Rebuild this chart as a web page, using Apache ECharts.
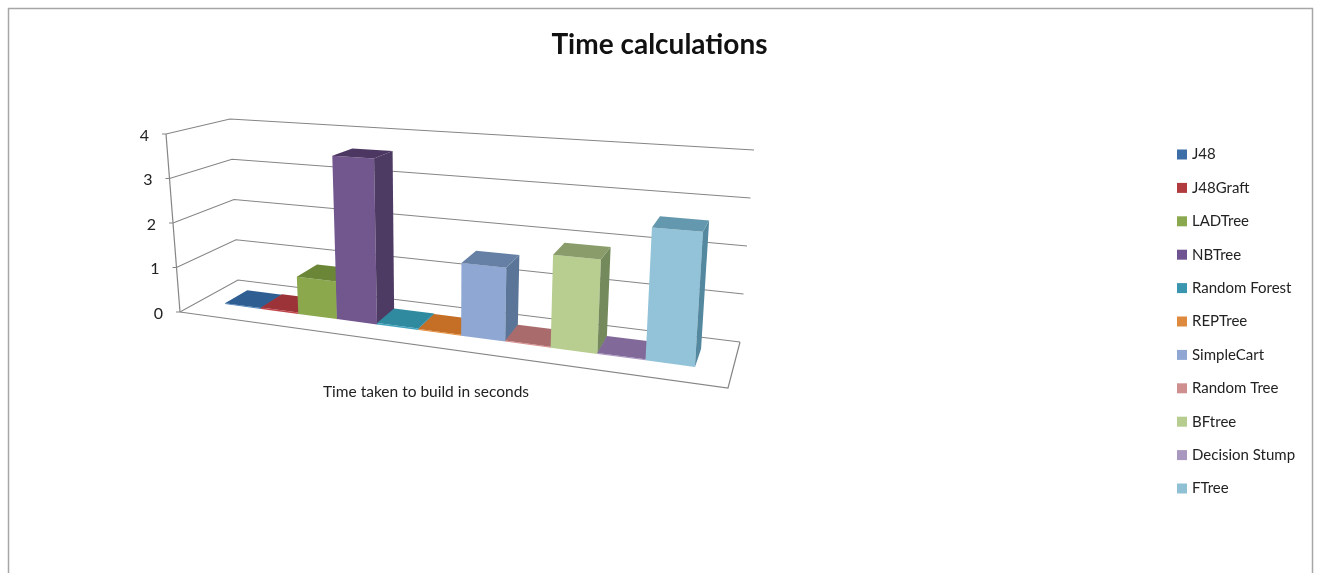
<!DOCTYPE html>
<html>
<head>
<meta charset="utf-8">
<title>Time calculations</title>
<style>html,body{margin:0;padding:0;background:#fff}#chart{width:1319px;height:573px}</style>
<script src="https://cdn.jsdelivr.net/npm/echarts@6/dist/echarts.min.js"></script>
</head>
<body>
<div id="chart"></div>
<script>
const categories = ['J48','J48Graft','LADTree','NBTree','Random Forest','REPTree','SimpleCart','Random Tree','BFtree','Decision Stump','FTree'];
const values = [0.02,0.03,0.83,3.6,0.03,0.02,1.53,0.02,1.89,0.02,2.62];
const yTicks = [0,1,2,3,4];
const legendColors = ['#3c6ea8','#b13b3f','#8aa84e','#6f5491','#3a96ae','#dd8a3f','#8fa7d2','#d08f8f','#b7cd8f','#a897bf','#8fc0d3'];
const faceColors = ['#4a80bb','#c0444a','#8ba84c','#72578f','#3fa3bd','#e8913f','#8fa8d3','#d98f8d','#b8cd90','#a995c2','#92c3d8'];
const sideColors = ['#2c5685','#8a2f33','#5f7633','#4e3b63','#277a8f','#a8641f','#5b7598','#9c6363','#758a5c','#74638c','#53889f'];
const topColors = ['#2f5f92','#9c3338','#6b8636','#4b3761','#2f8aa0','#c46f25','#6680a5','#a96b6b','#8a9c6a','#816a9a','#6498ae'];

// Eight corners of the plot box on screen, indexed [across][up][deep].
const box = {
  '000':[180,312], '100':[728,388], '010':[166,134], '110':[742,170],
  '001':[238,280], '101':[740,342], '011':[230,119], '111':[754,150]
};
const barDepth = [0.35, 0.75];

function project(u, v, d) {
  const out = [0, 0];
  for (const a of [0,1]) for (const b of [0,1]) for (const c of [0,1]) {
    const w = (a ? u : 1-u) * (b ? v : 1-v) * (c ? d : 1-d);
    const p = box['' + a + b + c];
    out[0] += w * p[0];
    out[1] += w * p[1];
  }
  return out;
}

// Columns widen toward the viewer on the right of the box.
function across(t) { return 0.0464 + 0.7304 * t + 0.1532 * t * t; }

function poly(points, fill) {
  return { type: 'polygon', shape: { points }, style: { fill }, silent: true };
}

function renderBar(params, api) {
  const cs = params.coordSys;
  const i = params.seriesIndex - 1;
  const c = api.coord([api.value(0), api.value(1)]);
  const band = api.size([1, 0])[0];
  const u0 = across((c[0] - band / 2 - cs.x) / cs.width);
  const u1 = across((c[0] + band / 2 - cs.x) / cs.width);
  const v = (cs.y + cs.height - c[1]) / cs.height;
  const [d0, d1] = barDepth;
  return { type: 'group', children: [
    poly([project(u0,0,d0), project(u1,0,d0), project(u1,v,d0), project(u0,v,d0)], faceColors[i]),
    poly([project(u1,0,d0), project(u1,0,d1), project(u1,v,d1), project(u1,v,d0)], sideColors[i]),
    poly([project(u0,v,d0), project(u1,v,d0), project(u1,v,d1), project(u0,v,d1)], topColors[i])
  ]};
}

function seg(points) {
  return { type: 'polyline', shape: { points }, style: { stroke: '#858585', lineWidth: 1.2, fill: null }, silent: true };
}

// Walls, floor, ticks and value labels of the box, one datum per tick.
function renderFrame(params, api) {
  const cs = params.coordSys;
  const tick = api.value(0);
  const v = (cs.y + cs.height - api.coord([0, tick])[1]) / cs.height;
  const front = project(0, v, 0);
  const children = [
    seg([[front[0] - 4, front[1]], front, project(0, v, 1), project(1, v, 1)]),
    { type: 'text', x: front[0] - 17, y: front[1] + 1.5, style: {
        text: String(tick), align: 'right', verticalAlign: 'middle',
        fontFamily: 'Lato', fontSize: 16, fill: '#222' }, silent: true }
  ];
  if (tick === yTicks[0]) {
    children.push(seg([project(0,0,0), project(1,0,0), project(1,0,1)]));
    children.push(seg([project(0,0,0), project(0,1,0)]));
  }
  return { type: 'group', children };
}

const series = [{
  type: 'custom', name: 'frame', coordinateSystem: 'cartesian2d', silent: true, z: 1,
  data: yTicks.map(t => [t]), encode: { y: 0 }, renderItem: renderFrame, clip: false
}].concat(categories.map((name, i) => ({
  type: 'custom', name, coordinateSystem: 'cartesian2d', z: 2,
  itemStyle: { color: legendColors[i] },
  data: [[i, values[i]]], encode: { x: 0, y: 1 }, renderItem: renderBar, clip: false
})));

const chart = echarts.init(document.getElementById('chart'), null, { renderer: 'canvas' });
chart.setOption({
  animation: false,
  backgroundColor: '#fff',
  title: {
    text: 'Time calculations', left: 654.5, top: 26, textAlign: 'center',
    textStyle: { fontFamily: 'Lato', fontWeight: 'bold', fontSize: 28, color: '#111' }
  },
  grid: { left: 152, top: 134, width: 548, height: 178 },
  xAxis: {
    type: 'category', data: categories,
    name: 'Time taken to build in seconds', nameLocation: 'middle', nameGap: 71.5,
    nameTextStyle: { fontFamily: 'Lato', fontSize: 15.5, color: '#222' },
    axisLine: { show: false }, axisTick: { show: false }, axisLabel: { show: false }
  },
  yAxis: {
    type: 'value', min: 0, max: 4, interval: 1,
    axisLine: { show: false }, axisTick: { show: false }, axisLabel: { show: false }, splitLine: { show: false }
  },
  legend: {
    data: categories, orient: 'vertical', left: 1172, top: 142, icon: 'rect',
    itemWidth: 10, itemHeight: 10, itemGap: 18.4, selectedMode: false,
    textStyle: { fontFamily: 'Lato', fontSize: 15, lineHeight: 14, color: '#222' }
  },
  graphic: [{
    type: 'polyline', silent: true,
    shape: { points: [[8.5,573],[8.5,8.5],[1312.5,8.5],[1312.5,573]] },
    style: { stroke: '#a6a6a6', lineWidth: 1.5, fill: null }
  }],
  series
});
</script>
</body>
</html>
